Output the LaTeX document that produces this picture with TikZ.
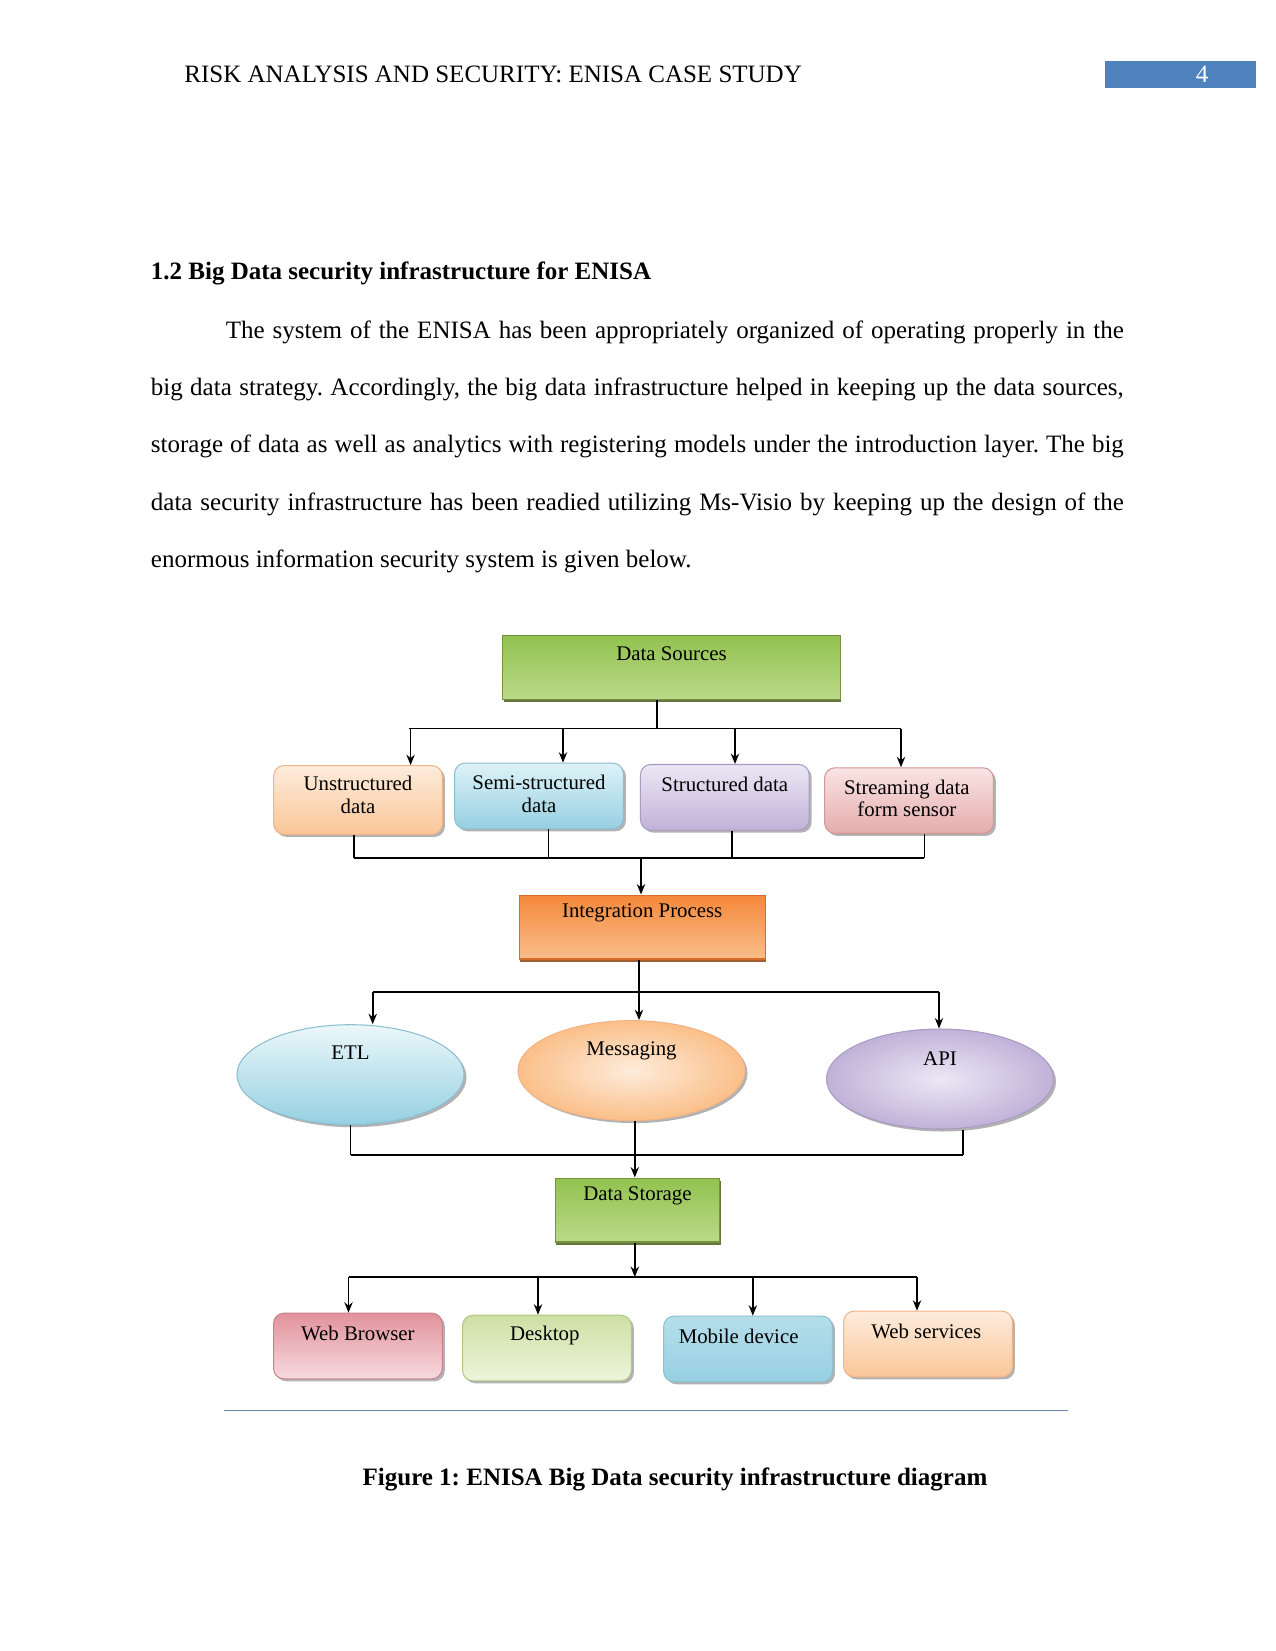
\documentclass[tikz,border=0pt]{standalone}
\usepackage{fontspec}
\setmainfont{Liberation Serif}
\usepackage{tikz}
\usetikzlibrary{arrows.meta,shapes.geometric,shadows,calc}
\frenchspacing
\definecolor{pagebar}{RGB}{79,129,189}
\definecolor{rulecol}{RGB}{110,135,170}
\definecolor{greentop}{RGB}{146,194,80}
\definecolor{greenbot}{RGB}{186,218,136}
\definecolor{greenedge}{RGB}{118,146,60}
\definecolor{orangetop}{RGB}{244,136,58}
\definecolor{orangebot}{RGB}{250,190,140}
\definecolor{orangeedge}{RGB}{215,110,40}
\definecolor{peachtop}{RGB}{253,236,220}
\definecolor{peachbot}{RGB}{250,198,152}
\definecolor{peachedge}{RGB}{240,180,135}
\definecolor{skytop}{RGB}{222,242,247}
\definecolor{skybot}{RGB}{150,208,226}
\definecolor{skyedge}{RGB}{140,190,210}
\definecolor{lavtop}{RGB}{236,232,245}
\definecolor{lavbot}{RGB}{192,178,216}
\definecolor{lavedge}{RGB}{170,155,195}
\definecolor{rosetop}{RGB}{250,228,228}
\definecolor{rosebot}{RGB}{228,172,172}
\definecolor{roseedge}{RGB}{210,150,150}
\definecolor{redtop}{RGB}{226,146,156}
\definecolor{redbot}{RGB}{246,218,222}
\definecolor{rededge}{RGB}{200,130,140}
\definecolor{limetop}{RGB}{205,224,164}
\definecolor{limebot}{RGB}{238,244,220}
\definecolor{limeedge}{RGB}{175,200,130}

\begin{document}
\begin{tikzpicture}[x=0.48pt, y=-0.48pt, >=Stealth,
    wire/.style={line width=0.8pt, black},
    arr/.style={wire, -{Stealth[length=5pt, width=4pt]}},
    lbl/.style={font=\fontsize{10}{10.8}\selectfont, align=center, inner sep=0pt},
    softshadow/.style={drop shadow={shadow xshift=1.2pt, shadow yshift=-1.2pt, opacity=0.3, fill=black}},
    flatbox/.style={rectangle, draw=#1edge, top color=#1top, bottom color=#1bot, line width=0.5pt,
        minimum height=30.7pt, inner sep=0pt,
        drop shadow={shadow xshift=0.4pt, shadow yshift=-1.4pt, fill=#1edge!70!black, opacity=0.9}},
    roundbox/.style={rectangle, rounded corners=5pt, draw=#1edge, top color=#1top, bottom color=#1bot,
        line width=0.5pt, minimum width=81pt, minimum height=31.5pt, inner sep=0pt, softshadow},
    ovalnode/.style={ellipse, draw=#1edge, line width=0.5pt, minimum width=109pt, minimum height=48pt,
        inner sep=0pt, softshadow}]
    \useasboundingbox (0,0) rectangle (1275,1651);

    % Running head
    \node[anchor=base west, inner sep=0pt, font=\fontsize{12}{14}\selectfont] (head) at (184,83)
        {RISK ANALYSIS AND SECURITY: ENISA CASE STUDY};
    \node[fill=pagebar, anchor=north west, minimum width=72.5pt, minimum height=13pt, inner sep=0pt] (pgbox) at (1105,61) {};
    \node[anchor=base, text=white, font=\fontsize{12}{14}\selectfont] (pgno) at (1202,83) {4};

    % Section heading and text
    \node[anchor=base west, inner sep=0pt, font=\fontsize{12}{14}\selectfont\bfseries] (sec) at (150.5,280)
        {1.2 Big Data security infrastructure for ENISA};
    \node[anchor=base west, text width=467pt, inner sep=0pt, align=justify,
        font=\fontsize{12}{27.5}\selectfont] (para) at (150.5,338.3)
        {\hspace*{36pt}The system of the ENISA has been appropriately organized of operating properly in the\linebreak
         big data strategy. Accordingly, the big data infrastructure helped in keeping up the data sources,\linebreak
         storage of data as well as analytics with registering models under the introduction layer. The big\linebreak
         data security infrastructure has been readied utilizing Ms-Visio by keeping up the design of the\linebreak
         enormous information security system is given below.};

    % Sources
    \node[flatbox=green, minimum width=161.8pt, label={[lbl, yshift=6.5pt]center:Data Sources}] (src) at (671.5,667.5) {};
    \node[roundbox=peach, minimum height=33pt, label={[lbl, yshift=2.4pt]center:Unstructured\\data}] (unst) at (358,800) {};
    \node[roundbox=sky, label={[lbl, yshift=1pt]center:Semi-structured\\data}] (semi) at (539,796) {};
    \node[roundbox=lav, label={[lbl, yshift=6.2pt]center:Structured data}] (strc) at (724.8,797.3) {};
    \node[roundbox=rose, label={[lbl, yshift=1pt, xshift=-1pt]center:Streaming data\\form sensor}] (strm) at (909,800.6) {};

    % Integration
    \node[flatbox=orange, minimum width=118pt, label={[lbl, yshift=6.7pt]center:Integration Process}] (integ) at (642.2,927) {};
    \node[ovalnode=sky, top color=skytop!60!white, bottom color=skybot, label={[lbl, yshift=10.4pt]center:ETL}] (etl) at (350.5,1074.7) {};
    \node[ovalnode=peach, inner color=peachtop, outer color=peachbot!90!orange, label={[lbl, yshift=9.6pt]center:Messaging}] (msg) at (631.5,1070.6) {};
    \node[ovalnode=lav, inner color=lavtop, outer color=lavbot, label={[lbl, yshift=10pt]center:API}] (api) at (940,1079) {};

    % Storage and clients
    \node[flatbox=green, minimum width=79pt, label={[lbl, yshift=6.7pt]center:Data Storage}] (stor) at (637.5,1210) {};
    \node[roundbox=red, label={[lbl, yshift=6.2pt]center:Web Browser}] (web) at (357.9,1346) {};
    \node[roundbox=lime, label={[lbl, yshift=6.2pt, xshift=-1pt]center:Desktop}] (desk) at (546.9,1348) {};
    \node[roundbox=sky, top color=skybot!70!white, bottom color=skybot, label={[lbl, yshift=6.2pt, xshift=-4.5pt]center:Mobile device}] (mob) at (748,1349) {};
    \node[roundbox=peach, label={[lbl, yshift=6.2pt, xshift=-0.8pt]center:Web services}] (wsvc) at (928,1344) {};

    % Sources fan out
    \coordinate (dsj) at (657,728.5);
    \coordinate (dsl) at (408.5,728.5);
    \coordinate (dsr) at (901,728.5);
    \draw[wire] (dsj |- src.south) -- (dsj);
    \draw[wire] (dsl) -- (dsr);
    \foreach \x/\n [count=\i] in {410.6/unst, 563/semi, 735/strc, 901/strm} {
        \coordinate (dsa\i) at (\x,728.5);
        \draw[arr] (dsa\i) -- (dsa\i |- \n.north);
    }

    % Sources into integration
    \foreach \x/\n [count=\i] in {353.7/unst, 548.5/semi, 731.7/strc, 924.4/strm} {
        \coordinate (inb\i) at (\x,858);
        \draw[wire] (inb\i |- \n.south) -- (inb\i);
    }
    \draw[wire] (inb1) -- (inb4);
    \coordinate (inj) at (641,858);
    \draw[arr] (inj) -- (inj |- integ.north);

    % Integration fan out
    \coordinate (ipj) at (639,991.7);
    \draw[wire] (ipj |- integ.south) -- (ipj);
    \foreach \x/\n [count=\i] in {372.7/etl, 639/msg, 939/api} {
        \coordinate (ipa\i) at (\x,991.7);
        \draw[arr] (ipa\i) -- (ipa\i |- \n.north);
    }
    \draw[wire] (ipa1) -- (ipa3);

    % Into storage
    \foreach \x/\n [count=\i] in {350.6/etl, 634.8/msg, 963.3/api} {
        \coordinate (stb\i) at (\x,1155);
        \draw[wire] (stb\i |- \n.south) -- (stb\i);
    }
    \draw[wire] (stb1) -- (stb3);
    \draw[arr] (stb2) -- (stb2 |- stor.north);

    % Storage fan out
    \coordinate (slj) at (634.8,1277);
    \draw[arr] (slj |- stor.south) -- (slj);
    \foreach \x/\n [count=\i] in {348.5/web, 538/desk, 752.8/mob, 917/wsvc} {
        \coordinate (sla\i) at (\x,1277);
        \draw[arr] (sla\i) -- (sla\i |- \n.north);
    }
    \draw[wire] (sla1) -- (sla4);

    % Rule and caption
    \coordinate (rl) at (224,1410.7);
    \coordinate (rr) at (1067.5,1410.7);
    \draw[rulecol, line width=0.7pt] (rl) -- (rr);
    \node[anchor=base, font=\fontsize{12}{14}\selectfont\bfseries] (cap) at (675,1485)
        {Figure 1: ENISA Big Data security infrastructure diagram};
\end{tikzpicture}
\end{document}
